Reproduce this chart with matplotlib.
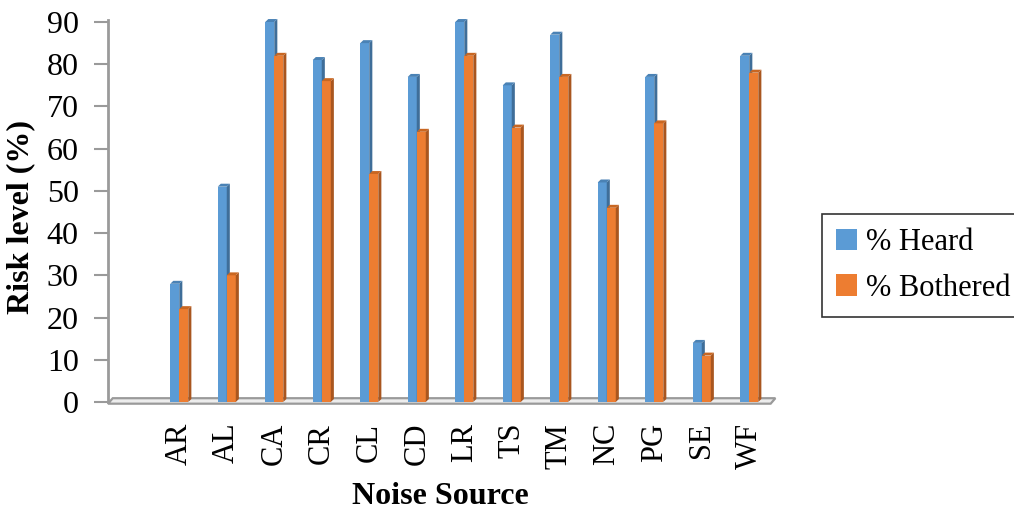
import numpy as np
import matplotlib
matplotlib.use("Agg")
import matplotlib.pyplot as plt
from matplotlib.patches import Polygon, Patch

plt.rcParams['font.family'] = ['Liberation Serif', 'DejaVu Sans']

# datos
sources = ['AR', 'AL', 'CA', 'CR', 'CL', 'CD', 'LR', 'TS', 'TM', 'NC', 'PG', 'SE', 'WF']
heard = [28, 51, 90, 81, 85, 77, 90, 75, 87, 52, 77, 14, 82]
bothered = [22, 30, 82, 76, 54, 64, 82, 65, 77, 46, 66, 11, 78]

blue, blue_side, blue_top = '#5B9BD5', '#3F6E99', '#4A82B5'
orange, orange_side, orange_top = '#ED7D31', '#A9561F', '#C96722'
grey = '#9A9A9A'

fig = plt.figure(figsize=(10.14, 5.14), dpi=100)
ax = fig.add_axes([108 / 1014, 112 / 514, 665 / 1014, 380 / 514])
ax.set_xlim(-1.5, 12.5)
ax.set_ylim(0, 90)

x = np.arange(len(sources))
w = 0.19
dx = 0.065   # profundidad en x (datos)
dy = 0.7     # profundidad en y (datos)


def bar3d(xc, h, front, side, top):
    x0, x1 = xc - w / 2, xc + w / 2
    caras = [
        ([(x0, 0), (x1, 0), (x1, h), (x0, h)], front),
        ([(x1, 0), (x1 + dx, dy), (x1 + dx, h + dy), (x1, h)], side),
        ([(x0, h), (x1, h), (x1 + dx, h + dy), (x0 + dx, h + dy)], top),
    ]
    for pts, c in caras:
        ax.add_patch(Polygon(pts, closed=True, facecolor=c, edgecolor='none',
                             zorder=3, clip_on=False))


# piso 3D
floor = Polygon([(-1.5, -0.4), (12.45, -0.4), (12.55, 0.9), (-1.4, 0.9)], closed=True,
                facecolor='#EDEDED', edgecolor=grey, linewidth=1.6, zorder=1, clip_on=False)
ax.add_patch(floor)

for i in range(len(sources)):
    bar3d(x[i] - w / 2, heard[i], blue, blue_side, blue_top)
    bar3d(x[i] + w / 2, bothered[i], orange, orange_side, orange_top)

for s in ['top', 'right', 'bottom']:
    ax.spines[s].set_visible(False)
ax.spines['left'].set_color(grey)
ax.spines['left'].set_linewidth(2)
ax.spines['left'].set_bounds(0, 90.5)

ax.set_yticks(np.arange(0, 91, 10))
ax.tick_params(axis='y', length=10, width=1.5, color=grey, labelsize=23, pad=11)
ax.set_xticks(x)
ax.set_xticklabels(sources, rotation=90, fontsize=22)
ax.tick_params(axis='x', length=0, pad=15)

fig.text(21 / 1014, 1 - 217 / 514, 'Risk level (%)', rotation=90, ha='center', va='center',
         fontsize=23, fontweight='bold')
fig.text(440 / 1014, 1 - 497 / 514, 'Noise Source', ha='center', va='center',
         fontsize=23, fontweight='bold')

handles = [Patch(facecolor=blue, label='% Heard'), Patch(facecolor=orange, label='% Bothered')]
leg = fig.legend(handles=handles, loc='center left', bbox_to_anchor=(822 / 1014, 0.4835),
                 fontsize=22, frameon=True, fancybox=False, edgecolor='black',
                 handlelength=0.7, handleheight=0.7, handletextpad=0.3,
                 labelspacing=0.55, borderaxespad=0, borderpad=0.45)
leg.get_frame().set_linewidth(1.2)

fig.savefig('out.png', dpi=100)
